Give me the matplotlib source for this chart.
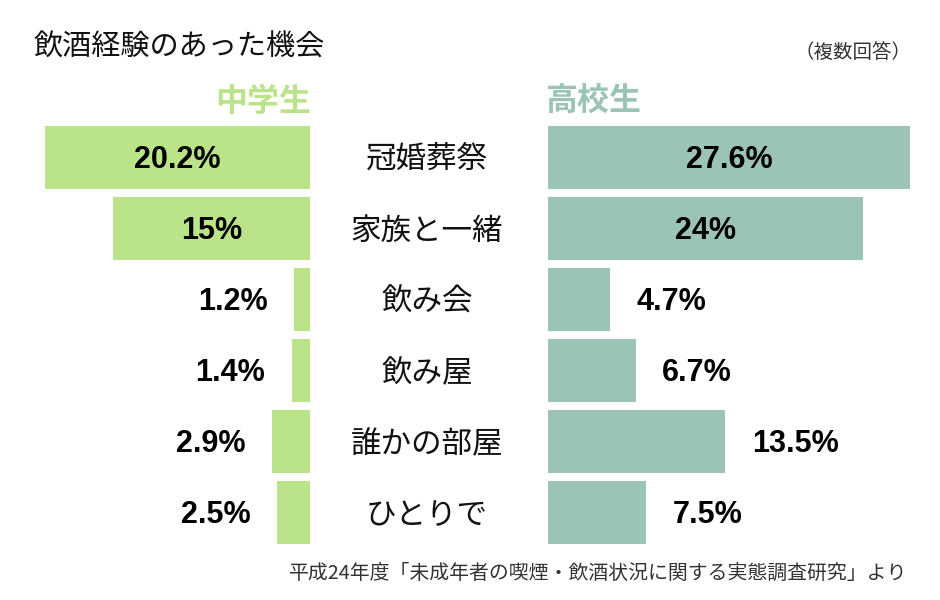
import matplotlib.pyplot as plt
from matplotlib.transforms import blended_transform_factory

plt.rcParams['font.family'] = ['Noto Sans CJK JP', 'DejaVu Sans']

categories = ['冠婚葬祭', '家族と一緒', '飲み会', '飲み屋', '誰かの部屋', 'ひとりで']
junior = [20.2, 15, 1.2, 1.4, 2.9, 2.5]
senior = [27.6, 24, 4.7, 6.7, 13.5, 7.5]
junior_labels = ['20.2%', '15%', '1.2%', '1.4%', '2.9%', '2.5%']
senior_labels = ['27.6%', '24%', '4.7%', '6.7%', '13.5%', '7.5%']

green = '#bbe38a'
teal = '#9bc4b7'

W, H = 940, 600
fig = plt.figure(figsize=(9.4, 6), dpi=100)
px = 13.13  # pixels per percent


def box(x0, y0, x1, y1):
    return [x0 / W, 1 - y1 / H, (x1 - x0) / W, (y1 - y0) / H]


top, bottom = 122, 548
ax_l = fig.add_axes(box(30, top, 310, bottom))
ax_r = fig.add_axes(box(548, top, 925, bottom))
ax_l.set_xlim(280 / px, 0)
ax_r.set_xlim(0, 377 / px)
ys = list(range(len(categories)))

for ax, vals, labels, col, side in [(ax_l, junior, junior_labels, green, -1),
                                    (ax_r, senior, senior_labels, teal, 1)]:
    ax.barh(ys, vals, height=0.887, color=col)
    ax.set_ylim(len(categories) - 0.5, -0.5)
    ax.axis('off')
    for y, v, lab in zip(ys, vals, labels):
        if v >= 15:
            ax.annotate(lab, (v / 2, y), xytext=(0, -2), textcoords='offset points',
                        ha='center', va='center', fontsize=22,
                        family=['Liberation Sans'], weight='bold', color='black')
        else:
            ax.annotate(lab, (v, y), xytext=(side * 19, -2), textcoords='offset points',
                        ha='left' if side > 0 else 'right', va='center', fontsize=22,
                        family=['Liberation Sans'], weight='bold', color='black')

tr = blended_transform_factory(fig.transFigure, ax_r.transData)
for y, c in zip(ys, categories):
    fig.text(427 / W, y + 0.04, c, transform=tr, ha='center', va='center', fontsize=22, color='#111111')

fig.text(33 / W, 1 - 48 / H, '飲酒経験のあった機会', ha='left', va='center', fontsize=21, color='#111111')
fig.text(912 / W, 1 - 52 / H, '（複数回答）', ha='right', va='center', fontsize=14, color='#333333')
fig.text(311 / W, 1 - 102 / H, '中学生', ha='right', va='center', fontsize=23, weight='bold', color=green)
fig.text(545 / W, 1 - 102 / H, '高校生', ha='left', va='center', fontsize=23, weight='bold', color=teal)
fig.text(907 / W, 1 - 573 / H, '平成24年度「未成年者の喫煙・飲酒状況に関する実態調査研究」より',
         ha='right', va='center', fontsize=14.3, color='#333333')

fig.savefig('out.png', dpi=100, facecolor='white')
